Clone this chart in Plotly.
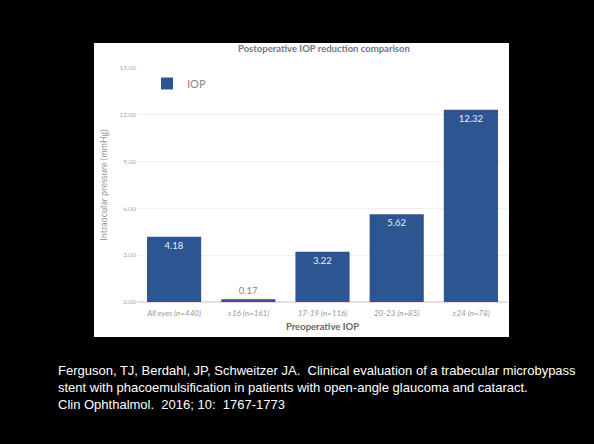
import plotly.graph_objects as go

categories = ["All eyes (n=440)", "≤16 (n=161)", "17-19 (n=116)", "20-23 (n=85)", "≥24 (n=78)"]
iop_reduction = [4.18, 0.17, 3.22, 5.62, 12.32]
y_ticks = [0, 3, 6, 9, 12, 15]
series_name = "IOP"
chart_title = "Postoperative IOP reduction comparison"
x_title = "Preoperative IOP"
y_title = "Intraocular pressure (mmHg)"
citation = [
    "Ferguson, TJ, Berdahl, JP, Schweitzer JA.  Clinical evaluation of a trabecular microbypass",
    "stent with phacoemulsification in patients with open-angle glaucoma and cataract.",
    "Clin Ophthalmol.  2016; 10:  1767-1773",
]

W, H = 594, 444
L, R, T, B = 137, 86, 68, 142
pw, ph = W - L - R, H - T - B

def px(x):
    return (x - L) / pw

def py(y):
    return (H - B - y) / ph

bar_color = "#2d5592"
positions = ["outside" if v < 1 else "inside" for v in iop_reduction]
text_colors = ["#888888" if v < 1 else "#e8eef8" for v in iop_reduction]

fig = go.Figure()
fig.add_trace(go.Bar(
    x=categories, y=iop_reduction, name=series_name,
    marker=dict(color=bar_color, line=dict(width=0)),
    text=[f"{v:.2f}" for v in iop_reduction],
    textposition=positions, insidetextanchor="end",
    textfont=dict(color=text_colors, size=9.5, family="Lato"),
    cliponaxis=False,
))

fig.update_layout(
    width=W, height=H,
    margin=dict(l=L, r=R, t=T, b=B),
    paper_bgcolor="black", plot_bgcolor="white",
    bargap=0.27,
    showlegend=True,
    legend=dict(x=px(147), y=py(69), xanchor="left", yanchor="top",
                bgcolor="rgba(0,0,0,0)", itemwidth=30,
                font=dict(size=11, color="#888888", family="Lato")),
    xaxis=dict(showgrid=False, ticklabelstandoff=5,
               tickfont=dict(size=8, color="#999999", family="Lato", style="italic"),
               ticks="", showline=False, zeroline=False,
               title=dict(text="<b>" + x_title + "</b>",
                          font=dict(size=9.5, color="#666666", family="Lato"), standoff=6)),
    yaxis=dict(range=[0, 15], tickvals=y_ticks, tickformat=".2f",
               gridcolor="#f0f0f0", gridwidth=1, zeroline=True, zerolinecolor="#f0dada",
               tickfont=dict(size=6.5, color="#aaaaaa", family="Lato"), ticks="",
               title=dict(text=y_title, font=dict(size=9, color="#999999", family="Lato"), standoff=10)),
    shapes=[dict(type="rect", xref="paper", yref="paper",
                 x0=px(94), x1=px(509), y0=py(337), y1=py(43),
                 fillcolor="white", line=dict(width=0), layer="below")],
    annotations=[
        dict(text="<b>" + chart_title + "</b>", xref="paper", yref="paper",
             x=px(324), y=py(48), xanchor="center", yanchor="middle", showarrow=False,
             font=dict(size=9.5, color="#777777", family="Lato")),
    ] + [
        dict(text=line, xref="paper", yref="paper", x=px(56), y=py(370 + 17 * i),
             xanchor="left", yanchor="middle", showarrow=False,
             font=dict(size=13, color="white", family="Liberation Sans Narrow, Liberation Sans"))
        for i, line in enumerate(citation)
    ],
)

fig.write_html("out.html", config={"displayModeBar": False},
               post_script="document.body.style.margin='0';")
